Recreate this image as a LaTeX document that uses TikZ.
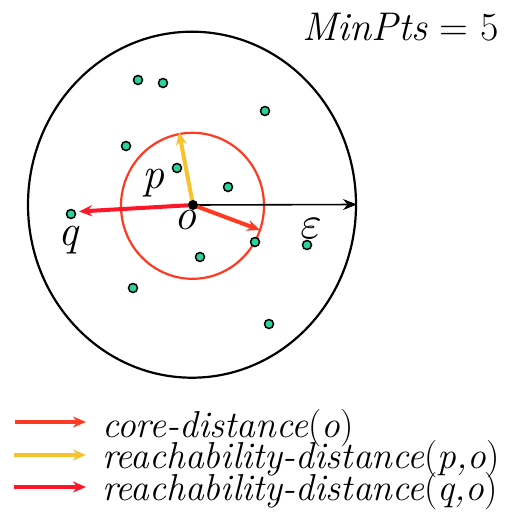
\documentclass[tikz,border=0pt]{standalone}
\usepackage{fontspec}
\usetikzlibrary{arrows.meta}
\definecolor{ptgreen}{HTML}{2BD39A}
\definecolor{corered}{HTML}{FF3A22}
\definecolor{reachy}{HTML}{F8C12E}
\definecolor{reachr}{HTML}{FF1628}
\tikzset{
  pt/.style={circle,draw=black,fill=ptgreen,line width=1.5pt,minimum size=9pt,inner sep=0pt},
  lbl/.style={inner sep=0pt,font=\fontsize{44}{44}\selectfont\itshape},
  leg/.style={inner sep=0pt,anchor=base west,font=\fontsize{37.5}{37.5}\selectfont\itshape},
  fat/.style={line width=4pt,-{Stealth[length=13pt,width=11pt]}},
}
\begin{document}
\begin{tikzpicture}[x=1pt,y=-1pt]
\useasboundingbox (0,0) rectangle (506,519);
\node[inner sep=0pt,anchor=base east,font=\fontsize{40}{40}\selectfont] (mp) at (499,41) {\textit{MinPts} = 5};
\draw[line width=2.2pt] (192,204.7) ellipse [x radius=164, y radius=173];
\draw[corered,line width=2.2pt] (192.5,205.8) ellipse [x radius=71.5, y radius=73];
\node[pt] (d1) at (138,80) {};
\node[pt] (d2) at (163,83) {};
\node[pt] (d3) at (265,111) {};
\node[pt] (d4) at (126,146) {};
\node[pt] (d5) at (177,168) {};
\node[pt] (d6) at (228,187) {};
\node[pt] (qd) at (71,214) {};
\node[pt] (d8) at (255,242) {};
\node[pt] (d9) at (307,245) {};
\node[pt] (d10) at (200,257) {};
\node[pt] (d11) at (133,288) {};
\node[pt] (d12) at (269,324) {};
\coordinate (eps) at (357,204.5);
\coordinate (ptop) at (179,132);
\coordinate (qend) at (79,211.5);
\coordinate (cend) at (260,230);
\draw[line width=1.6pt,-{Stealth[length=14pt,width=11pt]}] (193,205) -- (eps);
\draw[reachy,fat] (193,205) -- (ptop);
\draw[reachr,fat] (193,205) -- (qend);
\draw[corered,fat] (193,205) -- (cend);
\node[circle,fill=black,minimum size=10pt,inner sep=0pt] (o) at (193,205) {};
\node[lbl] (lp) at (153,183) {p};
\node[lbl] (lo) at (185,220) {o};
\node[lbl] (lq) at (68,240) {q};
\node[inner sep=0pt] (le) at (311,229) {\scalebox{4.6}{$\varepsilon$}};
\coordinate (a1s) at (15,422); \coordinate (a1e) at (86,422);
\coordinate (a2s) at (14,455); \coordinate (a2e) at (86,455);
\coordinate (a3s) at (14,487); \coordinate (a3e) at (86,487);
\draw[corered,fat] (a1s) -- (a1e);
\draw[reachy,fat] (a2s) -- (a2e);
\draw[reachr,fat] (a3s) -- (a3e);
\node[leg] (t1) at (102,437) {core-distance\textup{(}o\textup{)}};
\node[leg] (t2) at (102,468) {reachability-distance\textup{(}p,o\textup{)}};
\node[leg] (t3) at (102,500) {reachability-distance\textup{(}q,o\textup{)}};
\end{tikzpicture}
\end{document}
